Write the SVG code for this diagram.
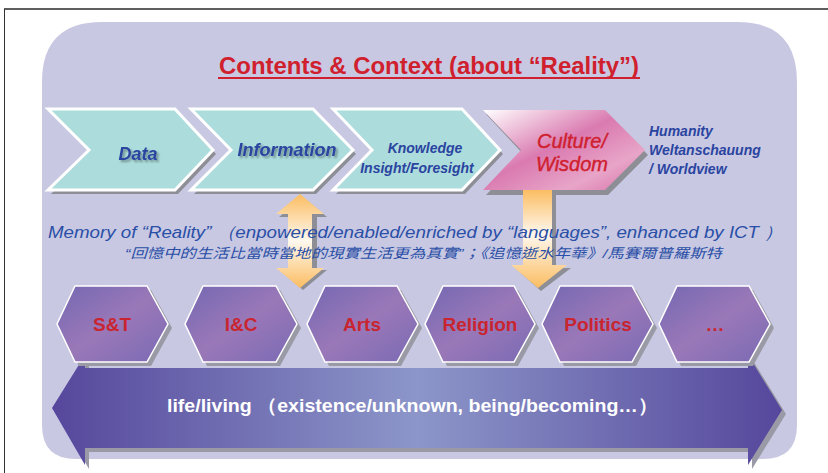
<svg xmlns="http://www.w3.org/2000/svg" width="828" height="473" viewBox="0 0 828 473">
<defs>
<linearGradient id="pink" x1="0" y1="0" x2="1" y2="1">
<stop offset="0" stop-color="#ffffff"/>
<stop offset="0.45" stop-color="#da7ab0"/>
<stop offset="0.75" stop-color="#e8a5c8"/>
<stop offset="1" stop-color="#d870a8"/>
</linearGradient>
<linearGradient id="hex" x1="0" y1="0" x2="1" y2="1">
<stop offset="0" stop-color="#7468b2"/>
<stop offset="0.5" stop-color="#9a78b8"/>
<stop offset="1" stop-color="#7a6ab4"/>
</linearGradient>
<linearGradient id="big" x1="0" y1="0" x2="1" y2="0">
<stop offset="0" stop-color="#56479c"/>
<stop offset="0.5" stop-color="#8c96c9"/>
<stop offset="1" stop-color="#56479c"/>
</linearGradient>
<linearGradient id="orangeV" x1="0" y1="0" x2="0" y2="1">
<stop offset="0" stop-color="#fbbd62"/>
<stop offset="0.5" stop-color="#fff8ee"/>
<stop offset="1" stop-color="#fbbd62"/>
</linearGradient>
<linearGradient id="orangeD" x1="0" y1="0" x2="0" y2="1">
<stop offset="0" stop-color="#fbbd62"/>
<stop offset="0.45" stop-color="#fff8ee"/>
<stop offset="1" stop-color="#fbbd62"/>
</linearGradient>
<filter id="ts" x="-10%" y="-10%" width="130%" height="140%">
<feGaussianBlur in="SourceAlpha" stdDeviation="1"/>
<feOffset dx="1.5" dy="2" result="b"/>
<feFlood flood-color="#000" flood-opacity="0.35"/>
<feComposite in2="b" operator="in"/>
<feMerge><feMergeNode/><feMergeNode in="SourceGraphic"/></feMerge>
</filter>
</defs>
<style>
.chev{fill:#acdcdc;stroke:#fff;stroke-width:3;stroke-linejoin:miter}
.shadow{fill:#8e8e96}
.hexs{fill:#9a9aa6}
.hexf{fill:url(#hex);stroke:#fff;stroke-width:1.5}
.blue{fill:#2a44a0;font-family:"Liberation Sans",Arial,sans-serif;font-style:italic;font-weight:bold}
.hext{fill:#c92530;font-family:"Liberation Sans",Arial,sans-serif;font-weight:bold;font-size:19px;text-anchor:middle}
</style>
<rect width="828" height="473" fill="#fff"/>
<line x1="4" y1="9" x2="828" y2="9" stroke="#5e5e5e" stroke-width="2"/>
<line x1="4.5" y1="9" x2="4.5" y2="473" stroke="#333" stroke-width="1"/>
<path d="M102,22 H737 Q797,22 797,82 V425 Q797,459 763,459 H76 Q42,459 42,425 V82 Q42,22 102,22 Z" fill="#c8c8e3"/>
<g id="title">
<text x="429" y="74" fill="#d0202e" font-family="'Liberation Sans',Arial,sans-serif" font-weight="bold" font-size="23" text-anchor="middle" textLength="420" lengthAdjust="spacingAndGlyphs">Contents &amp; Context (about “Reality”)</text>
<rect x="218" y="77" width="422" height="2" fill="#d0202e"/>
</g>
<g id="data">
<polygon class="shadow" points="51,113 178,113 216,154 178,194 51,194 92,154"/>
<polygon class="chev" points="48,109 175,109 213,150 175,190 48,190 89,150"/>
<text class="blue" x="138" y="160" font-size="18" text-anchor="middle" filter="url(#ts)">Data</text>
</g>
<g id="information">
<polygon class="shadow" points="194,113 316,113 356,154 316,194 194,194 234,154"/>
<polygon class="chev" points="191,109 313,109 353,150 313,190 191,190 231,150"/>
<text class="blue" x="287" y="156" font-size="18" text-anchor="middle" filter="url(#ts)">Information</text>
</g>
<g id="knowledge">
<polygon class="shadow" points="336,113 465,113 503,154 465,194 336,194 375,154"/>
<polygon class="chev" points="333,109 462,109 500,150 462,190 333,190 372,150"/>
<text class="blue" x="425" y="153" font-size="14" text-anchor="middle">Knowledge</text>
<text class="blue" x="417" y="173" font-size="14" text-anchor="middle">Insight/Foresight</text>
</g>
<g id="culture">
<polygon class="shadow" points="486,114 608,114 648,155 608,195 486,195 524,155"/>
<polygon points="483,110 605,110 645,150 605,190 483,190 521,150" fill="url(#pink)"/>
<text x="572" y="148" fill="#d0202e" stroke="#d0202e" stroke-width="0.4" font-family="'Liberation Sans',Arial,sans-serif" font-style="italic" font-size="20" text-anchor="middle">Culture/</text>
<text x="572" y="171" fill="#d0202e" stroke="#d0202e" stroke-width="0.4" font-family="'Liberation Sans',Arial,sans-serif" font-style="italic" font-size="20" text-anchor="middle">Wisdom</text>
</g>
<g id="humanity">
<text class="blue" x="649" y="136" font-size="14">Humanity</text>
<text class="blue" x="649" y="155" font-size="14">Weltanschauung</text>
<text class="blue" x="649" y="174" font-size="14">/ Worldview</text>
</g>
<g id="connectors">
<path d="M303,197 L327,217 L317,217 L317,270 L327,270 L303,290 L279,270 L289,270 L289,217 L279,217 Z" class="shadow"/>
<path d="M300,194 L324,214 L312,214 L312,268 L324,268 L300,288 L276,268 L288,268 L288,214 L276,214 Z" fill="url(#orangeV)"/>
<path d="M527,191 L556,191 L556,268 L571,268 L541,291 L515,268 L527,268 Z" class="shadow"/>
<path d="M523,190 L552,190 L552,265 L567,265 L538,288 L511,265 L523,265 Z" fill="url(#orangeD)"/>
</g>
<g id="memory">
<text x="48" y="238" fill="#2a4fa6" font-family="'Liberation Sans',Arial,sans-serif" font-style="italic" font-size="17" textLength="735" lengthAdjust="spacingAndGlyphs">Memory of “Reality” （enpowered/enabled/enriched by “languages”, enhanced by ICT ）</text>
<text x="125" y="258" fill="#2a4fa6" font-family="'Liberation Sans','Noto Sans CJK TC',sans-serif" font-style="italic" font-size="13.5" textLength="597" lengthAdjust="spacingAndGlyphs">“回憶中的生活比當時當地的現實生活更為真實”；《追憶逝水年華》/馬賽爾普羅斯特</text>
</g>
<g id="life">
<path d="M89,372 L752,372 L752,359 L786,414 L752,469 L752,452 L89,452 L89,469 L56,412 L89,359 Z" fill="#9a9aa6"/>
<path d="M85,368 L748,368 L748,355 L782,410 L748,465 L748,448 L85,448 L85,465 L52,408 L85,355 Z" fill="url(#big)"/>
<text x="167" y="412" fill="#fff" font-family="'Liberation Sans',Arial,sans-serif" font-weight="bold" font-size="18.5" textLength="491" lengthAdjust="spacingAndGlyphs">life/living （existence/unknown, being/becoming…）</text>
</g>
<g id="st">
<polygon class="hexs" points="79,290 151,290 172,328 151,366 79,366 61,328"/>
<polygon class="hexf" points="75,286 147,286 168,324 147,362 75,362 57,324"/>
<text class="hext" x="112" y="331">S&amp;T</text>
</g>
<g id="ic">
<polygon class="hexs" points="207,290 280,290 301,328 280,366 207,366 189,328"/>
<polygon class="hexf" points="203,286 276,286 297,324 276,362 203,362 185,324"/>
<text class="hext" x="241" y="331">I&amp;C</text>
</g>
<g id="arts">
<polygon class="hexs" points="329,290 401,290 422,328 401,366 329,366 311,328"/>
<polygon class="hexf" points="325,286 397,286 418,324 397,362 325,362 307,324"/>
<text class="hext" x="362" y="331">Arts</text>
</g>
<g id="religion">
<polygon class="hexs" points="447,290 518,290 539,328 518,366 447,366 429,328"/>
<polygon class="hexf" points="443,286 514,286 535,324 514,362 443,362 425,324"/>
<text class="hext" x="480" y="331">Religion</text>
</g>
<g id="politics">
<polygon class="hexs" points="564,290 636,290 657,328 636,366 564,366 546,328"/>
<polygon class="hexf" points="560,286 632,286 653,324 632,362 560,362 542,324"/>
<text class="hext" x="598" y="331">Politics</text>
</g>
<g id="more">
<polygon class="hexs" points="681,290 753,290 774,328 753,366 681,366 663,328"/>
<polygon class="hexf" points="677,286 749,286 770,324 749,362 677,362 659,324"/>
<text class="hext" x="715" y="331">…</text>
</g>
</svg>
